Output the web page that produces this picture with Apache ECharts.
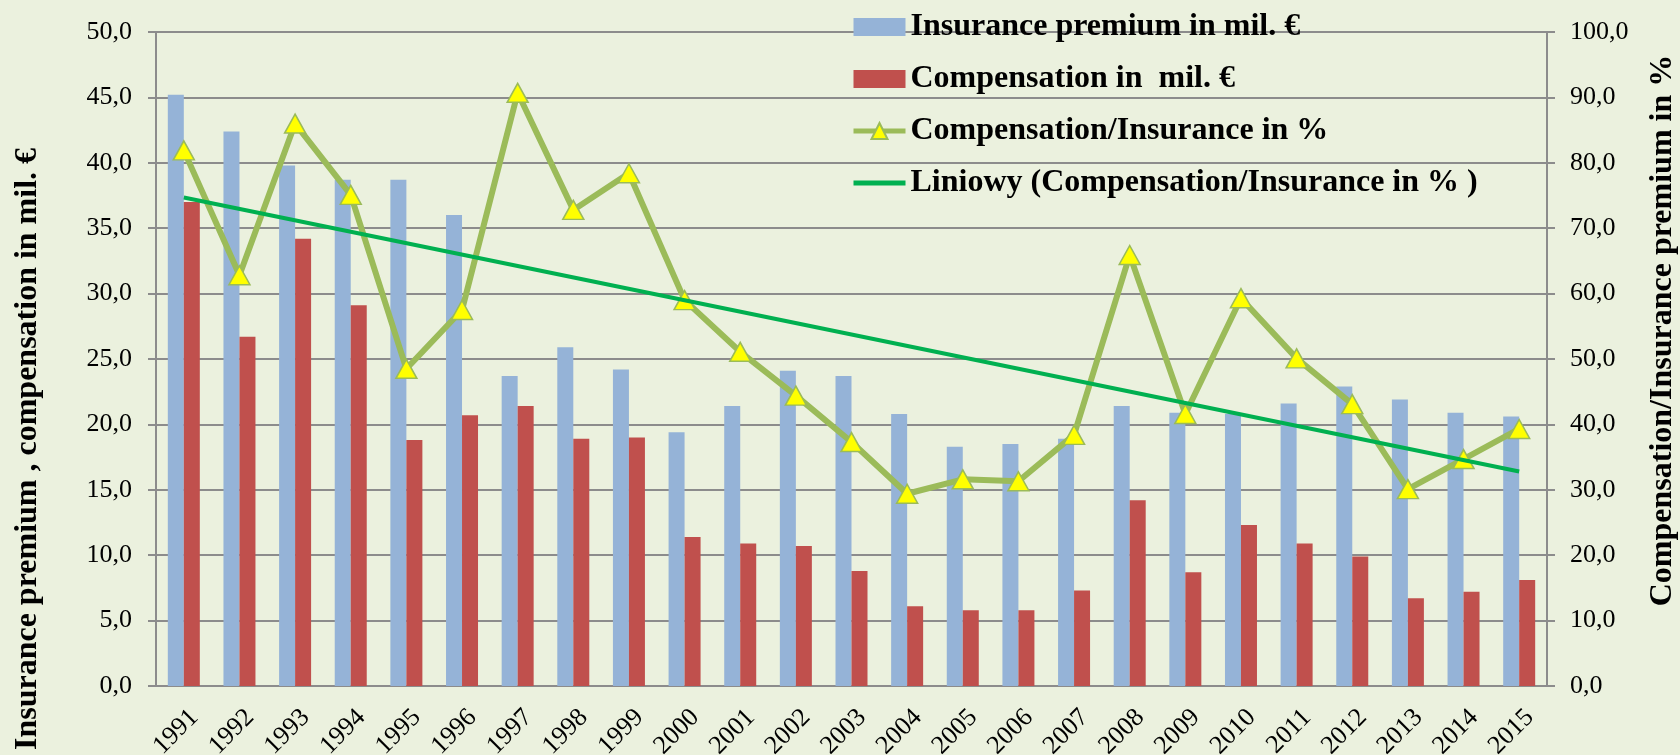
<!DOCTYPE html>
<html>
<head>
<meta charset="utf-8">
<script src="https://cdn.jsdelivr.net/npm/echarts@6/dist/echarts.min.js"></script>
<style>
  html, body { margin: 0; padding: 0; background: #ebf1de; }
  #chart { width: 1680px; height: 755px; }
</style>
</head>
<body>
<div id="chart"></div>
<script>
// values
const years = ["1991", "1992", "1993", "1994", "1995", "1996", "1997", "1998", "1999", "2000",
  "2001", "2002", "2003", "2004", "2005", "2006", "2007", "2008", "2009", "2010",
  "2011", "2012", "2013", "2014", "2015"];
const premium = [45.2, 42.4, 39.8, 38.7, 38.7, 36.0, 23.7, 25.9, 24.2, 19.4,
  21.4, 24.1, 23.7, 20.8, 18.3, 18.5, 18.9, 21.4, 20.9, 20.8,
  21.6, 22.9, 21.9, 20.9, 20.6];
const compensation = [37.0, 26.7, 34.2, 29.1, 18.8, 20.7, 21.4, 18.9, 19.0, 11.4,
  10.9, 10.7, 8.8, 6.1, 5.8, 5.8, 7.3, 14.2, 8.7, 12.3,
  10.9, 9.9, 6.7, 7.2, 8.1];
const ratio = [81.9, 62.8, 86.0, 75.1, 48.5, 57.5, 90.7, 72.8, 78.4, 59.0,
  51.1, 44.4, 37.3, 29.4, 31.6, 31.3, 38.4, 65.9, 41.6, 59.3,
  50.1, 43.1, 30.1, 34.7, 39.3];
// trend line end points (Excel linear trend)
const trendYears = ["1991", "2015"];
const trendValues = [74.7, 32.8];

const serif = "'Liberation Serif', 'Times New Roman', serif";
const gridGray = "#8c8c8c";
const comma = v => v.toFixed(1).replace(".", ",");

const chart = echarts.init(document.getElementById("chart"));
chart.setOption({
  backgroundColor: "#ebf1de",
  animation: false,
  grid: { left: 156, right: 133, top: 32, bottom: 69, containLabel: false, outerBoundsMode: "none" },
  legend: {
    orient: "vertical",
    left: 846,
    top: 6,
    itemWidth: 52,
    itemHeight: 20,
    itemGap: 20,
    lineStyle: { width: 5 },
    textStyle: { fontFamily: serif, fontWeight: "bold", fontSize: 32, color: "#000", lineHeight: 32 },
    data: [
      { name: "Insurance premium in mil. €", icon: "path://M0,0H52V18H0Z" },
      { name: "Compensation in  mil. €", icon: "path://M0,0H52V18H0Z" },
      { name: "Compensation/Insurance in %" },
      { name: "Liniowy (Compensation/Insurance in % )", icon: "path://M0,0H52V5H0Z" }
    ]
  },
  xAxis: {
    type: "category",
    data: years,
    axisLine: { lineStyle: { color: gridGray, width: 2 } },
    axisTick: { lineStyle: { color: gridGray, width: 2 }, length: 7 },
    axisLabel: {
      rotate: 45, interval: 0, margin: 38, padding: [0, -15, 0, 0],
      fontFamily: serif, fontSize: 26, color: "#000"
    }
  },
  yAxis: [
    {
      type: "value",
      min: 0, max: 50, interval: 5,
      name: "Insurance premium , compensation in mil. €",
      nameLocation: "middle",
      nameRotate: 90,
      nameGap: 112,
      nameTextStyle: { fontFamily: serif, fontWeight: "bold", fontSize: 32, color: "#000", padding: [0, 180, 0, 0] },
      axisLine: { show: true, lineStyle: { color: gridGray, width: 2 } },
      axisTick: { show: true, length: 8, lineStyle: { color: gridGray, width: 2 } },
      axisLabel: { margin: 24, fontFamily: serif, fontSize: 26, color: "#000", formatter: comma },
      splitLine: { lineStyle: { color: gridGray, width: 2 } }
    },
    {
      type: "value",
      min: 0, max: 100, interval: 10,
      position: "right",
      name: "Compensation/Insurance premium in %",
      nameLocation: "middle",
      nameRotate: 90,
      nameGap: 100,
      nameTextStyle: { fontFamily: serif, fontWeight: "bold", fontSize: 32, color: "#000", padding: [0, 0, 0, 57] },
      axisLine: { show: true, lineStyle: { color: gridGray, width: 2 } },
      axisTick: { show: true, length: 8, lineStyle: { color: gridGray, width: 2 } },
      axisLabel: { margin: 23, fontFamily: serif, fontSize: 26, color: "#000", formatter: comma },
      splitLine: { show: false }
    }
  ],
  series: [
    {
      name: "Insurance premium in mil. €",
      type: "bar",
      data: premium,
      barWidth: 16,
      barGap: "0%",
      itemStyle: { color: "#95b3d7" }
    },
    {
      name: "Compensation in  mil. €",
      type: "bar",
      data: compensation,
      barWidth: 16,
      barGap: "0%",
      itemStyle: { color: "#c0504d" }
    },
    {
      name: "Compensation/Insurance in %",
      type: "line",
      yAxisIndex: 1,
      data: ratio,
      symbol: "triangle",
      symbolSize: [21, 19],
      lineStyle: { color: "#9bbb59", width: 6 },
      itemStyle: { color: "#ffff00", borderColor: "#9bbb59", borderWidth: 1.5 },
      z: 3
    },
    {
      name: "Liniowy (Compensation/Insurance in % )",
      type: "line",
      yAxisIndex: 1,
      data: trendYears.map((y, i) => [y, trendValues[i]]),
      symbol: "none",
      lineStyle: { color: "#00b050", width: 4 },
      itemStyle: { color: "#00b050" },
      z: 4
    }
  ]
});
</script>
</body>
</html>
